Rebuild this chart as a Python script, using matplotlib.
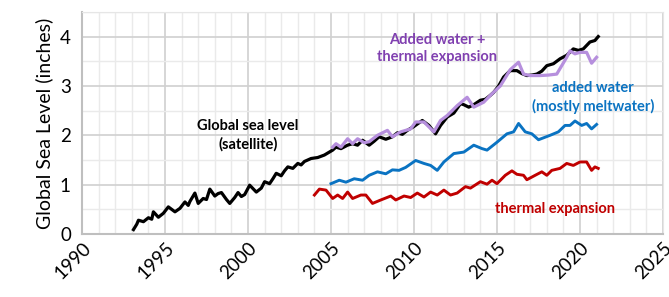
import numpy as np
import matplotlib.pyplot as plt
from matplotlib.ticker import MultipleLocator

plt.rcParams['font.family'] = ['Lato', 'DejaVu Sans']

# Global sea level (satellite), inches
gsl_year = [1993.1, 1993.3, 1993.4, 1993.7, 1994.0, 1994.2, 1994.3, 1994.6, 1994.9, 1995.2,
            1995.4, 1995.6, 1995.9, 1996.2, 1996.4, 1996.5, 1996.8, 1997.0, 1997.3, 1997.5,
            1997.7, 1998.0, 1998.2, 1998.4, 1998.7, 1998.9, 1999.2, 1999.4, 1999.6, 1999.8,
            2000.1, 2000.3, 2000.5, 2000.8, 2001.0, 2001.3, 2001.5, 2001.7, 2002.0, 2002.2,
            2002.4, 2002.7, 2003.0, 2003.2, 2003.4, 2003.8, 2004.2, 2004.6, 2005.1, 2005.3,
            2005.6, 2006.0, 2006.3, 2006.6, 2006.9, 2007.3, 2007.6, 2007.9, 2008.3, 2008.7,
            2009.0, 2009.3, 2009.6, 2010.0, 2010.5, 2010.9, 2011.3, 2011.6, 2012.0, 2012.4,
            2012.8, 2013.0, 2013.3, 2013.6, 2014.0, 2014.3, 2014.6, 2014.8, 2015.1, 2015.4,
            2015.8, 2016.2, 2016.5, 2016.8, 2017.1, 2017.4, 2017.7, 2018.0, 2018.4, 2018.8,
            2019.2, 2019.6, 2019.9, 2020.2, 2020.6, 2020.9, 2021.1]
gsl_val = [0.09, 0.20, 0.28, 0.25, 0.33, 0.30, 0.45, 0.34, 0.42, 0.55,
           0.50, 0.45, 0.52, 0.65, 0.58, 0.66, 0.83, 0.62, 0.72, 0.70,
           0.91, 0.77, 0.82, 0.84, 0.70, 0.62, 0.74, 0.84, 0.76, 0.80,
           0.99, 0.92, 0.85, 0.93, 1.06, 1.02, 1.12, 1.23, 1.18, 1.28,
           1.36, 1.33, 1.43, 1.40, 1.47, 1.53, 1.55, 1.60, 1.70, 1.76,
           1.73, 1.80, 1.83, 1.80, 1.90, 1.80, 1.88, 1.97, 1.92, 1.97,
           2.05, 2.02, 2.10, 2.18, 2.30, 2.20, 2.03, 2.20, 2.37, 2.45,
           2.64, 2.62, 2.57, 2.62, 2.71, 2.73, 2.81, 2.87, 3.00, 3.18,
           3.31, 3.31, 3.25, 3.21, 3.22, 3.24, 3.30, 3.41, 3.45, 3.55,
           3.62, 3.75, 3.72, 3.75, 3.89, 3.92, 4.00]

# Added water + thermal expansion
sum_year = [2005.1, 2005.3, 2005.6, 2006.0, 2006.3, 2006.6, 2007.0, 2007.3, 2007.8, 2008.4,
            2008.7, 2009.2, 2009.8, 2010.1, 2010.6, 2011.2, 2011.6, 2012.0, 2012.6, 2013.2,
            2013.6, 2014.2, 2014.6, 2015.2, 2015.8, 2016.3, 2016.6, 2017.0, 2017.6, 2018.1,
            2018.6, 2019.2, 2019.4, 2019.7, 2020.0, 2020.4, 2020.7, 2021.0]
sum_val = [1.76, 1.83, 1.76, 1.93, 1.83, 1.93, 1.85, 1.87, 2.00, 2.10,
           1.97, 2.07, 2.13, 2.27, 2.27, 2.07, 2.30, 2.40, 2.60, 2.77,
           2.57, 2.67, 2.81, 3.00, 3.33, 3.48, 3.24, 3.21, 3.21, 3.22,
           3.24, 3.58, 3.71, 3.65, 3.68, 3.68, 3.46, 3.58]

# Added water (mostly meltwater)
water_year = [2005.0, 2005.5, 2005.9, 2006.4, 2006.9, 2007.3, 2007.8, 2008.3, 2008.7, 2009.1,
              2009.5, 2010.1, 2010.6, 2011.0, 2011.4, 2011.8, 2012.4, 2013.0, 2013.6, 2014.1,
              2014.4, 2015.0, 2015.6, 2016.0, 2016.3, 2016.7, 2017.1, 2017.5, 2018.2, 2018.7,
              2019.1, 2019.4, 2019.7, 2020.1, 2020.4, 2020.7, 2021.0]
water_val = [1.02, 1.09, 1.05, 1.12, 1.09, 1.19, 1.26, 1.22, 1.30, 1.29,
             1.35, 1.49, 1.43, 1.39, 1.29, 1.46, 1.63, 1.66, 1.80, 1.73,
             1.70, 1.86, 2.03, 2.07, 2.24, 2.07, 2.03, 1.91, 2.00, 2.07,
             2.20, 2.20, 2.29, 2.20, 2.24, 2.13, 2.22]

# Thermal expansion
therm_year = [2004.0, 2004.3, 2004.7, 2005.1, 2005.4, 2005.7, 2006.0, 2006.3, 2006.8, 2007.1,
              2007.5, 2008.0, 2008.6, 2008.9, 2009.4, 2009.8, 2010.2, 2010.6, 2011.0, 2011.4,
              2011.8, 2012.2, 2012.6, 2013.1, 2013.4, 2014.0, 2014.4, 2014.7, 2015.0, 2015.5,
              2015.9, 2016.2, 2016.6, 2016.8, 2017.3, 2017.7, 2018.0, 2018.3, 2018.8, 2019.2,
              2019.6, 2020.0, 2020.4, 2020.7, 2020.9, 2021.1]
therm_val = [0.79, 0.91, 0.89, 0.72, 0.79, 0.72, 0.85, 0.72, 0.79, 0.79,
             0.62, 0.69, 0.77, 0.69, 0.77, 0.74, 0.83, 0.75, 0.85, 0.79,
             0.89, 0.79, 0.83, 0.96, 0.93, 1.06, 1.01, 1.09, 1.02, 1.19,
             1.28, 1.21, 1.19, 1.10, 1.19, 1.26, 1.19, 1.29, 1.33, 1.43,
             1.39, 1.46, 1.46, 1.29, 1.36, 1.33]

fig = plt.figure(figsize=(6.69, 2.97), dpi=100)
ax = fig.add_axes([0.1226, 0.212, 0.8684, 0.748])

ax.plot(gsl_year, gsl_val, color='black', lw=2.3, zorder=3)
ax.plot(sum_year, sum_val, color='#B68FDD', lw=2.3, zorder=4)
ax.plot(water_year, water_val, color='#0A73C2', lw=2.1, zorder=3)
ax.plot(therm_year, therm_val, color='#C00000', lw=2.1, zorder=3)

ax.set_xlim(1990, 2025)
ax.set_ylim(0, 4.5)
ax.xaxis.set_major_locator(MultipleLocator(5))
ax.xaxis.set_minor_locator(MultipleLocator(1))
ax.yaxis.set_major_locator(MultipleLocator(1))
ax.yaxis.set_minor_locator(MultipleLocator(0.5))
ax.grid(which='major', color='#D0D0D0', lw=1.2, zorder=0)
ax.grid(which='minor', color='#EAEAEA', lw=1.0, zorder=0)
ax.set_axisbelow(True)
ax.tick_params(which='both', length=0, labelsize=13.5)
ax.tick_params(axis='y', pad=8)
for lab in ax.get_xticklabels():
    lab.set_rotation(45)
    lab.set_ha('right')
    lab.set_rotation_mode('anchor')
for s in ['top', 'right']:
    ax.spines[s].set_color('#E6E6E6')
for s in ['left', 'bottom']:
    ax.spines[s].set_color('#BFBFBF')
    ax.spines[s].set_linewidth(1.5)

ax.set_ylabel('Global Sea Level (inches)', fontsize=14, labelpad=5)

ax.text(2000.0, 2.0, 'Global sea level\n(satellite)', color='black', fontsize=10.5,
        fontweight='bold', ha='center', va='center', linespacing=1.3)
ax.text(2011.4, 3.76, 'Added water +\nthermal expansion', color='#8040B0', fontsize=10.5,
        fontweight='bold', ha='center', va='center', linespacing=1.3)
ax.text(2020.8, 2.77, 'added water\n(mostly meltwater)', color='#0A73C2', fontsize=10.5,
        fontweight='bold', ha='center', va='center', linespacing=1.3)
ax.text(2018.5, 0.50, 'thermal expansion', color='#C00000', fontsize=10.5,
        fontweight='bold', ha='center', va='center')

plt.savefig('out.png', dpi=100)
